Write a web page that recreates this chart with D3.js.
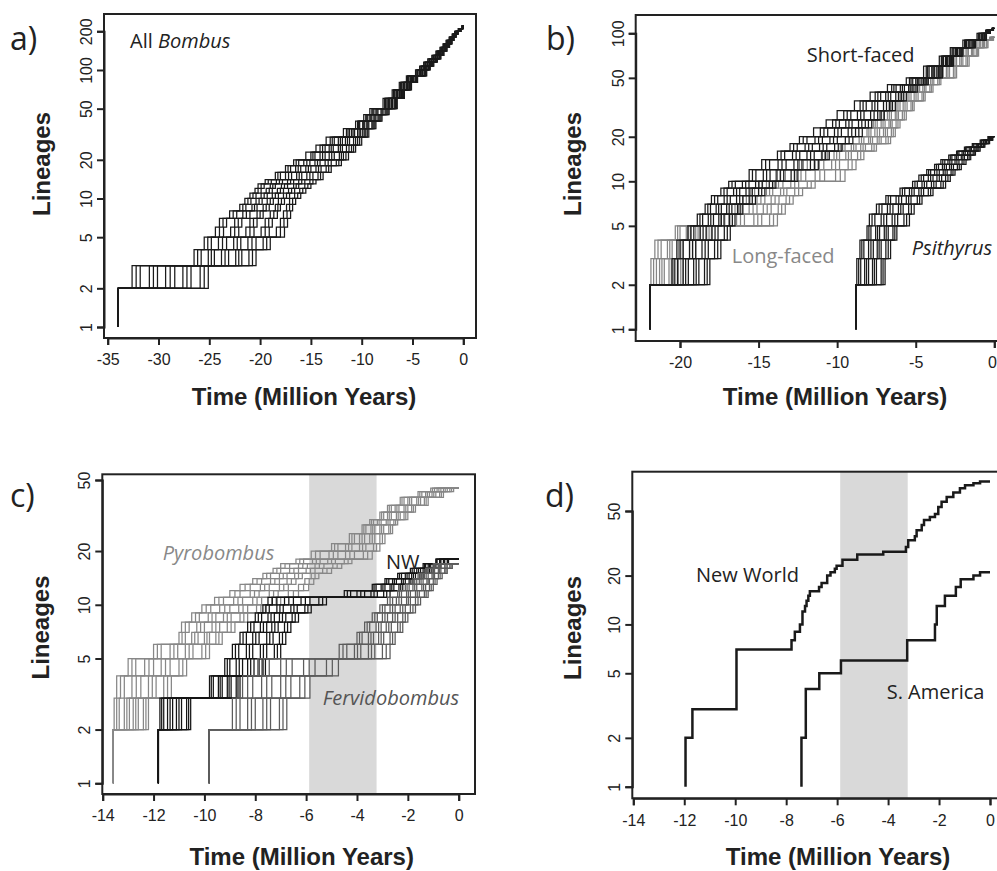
<!DOCTYPE html>
<html>
<head>
<meta charset="utf-8">
<script src="https://cdn.jsdelivr.net/npm/d3@7"></script>
<style>
  html, body { margin: 0; padding: 0; background: #fff; }
  svg { display: block; }
  .tick text { font-family: "Liberation Sans", Arial, sans-serif; font-size: 16px; fill: #222; }
  .axis-title { font-family: "Liberation Sans", Arial, sans-serif; font-size: 24px; font-weight: bold; fill: #222; }
  .note { font-family: "Open Sans", "Noto Sans", sans-serif; font-size: 20px; }
  .panel-label { font-family: "Open Sans", "Noto Sans", sans-serif; font-size: 32px; fill: #222; }
</style>
</head>
<body>
<svg id="chart" width="997" height="871"></svg>
<script>
// ---------------- DATA ----------------
const presentTime = 0;

// Panel a: All Bombus — lineage-through-time curves of 15 sampled trees.
// Rows = lineage counts, columns = trees; value = time (Ma) when the count is reached.
const bombusRootAge = -33.95;
const bombusLevels = [3,4,5,6,7,8,9,10,11,12,13,14,16,18,20,23,26,30,35,40,45,50,60,70,80,90,100,107,115,122,130,140,150,160,170,180,190,200,210,220];
const bombusTimes = [
  [-32.6,-31.8,-30.9,-30.1,-29.3,-28.4,-27.6,-26.8,-25.9,-25.1, -32.2,-30.5,-28.85,-27.2,-25.5],
  [-25.8,-26.5,-24.5,-25.1,-23.1,-23.8,-21.8,-22.4,-20.4,-21.1, -26.15,-24.8,-23.45,-22.1,-20.75],
  [-24.8,-25.5,-23.3,-24.1,-21.9,-22.6,-20.4,-21.2,-19.0,-19.7, -25.15,-23.7,-22.25,-20.8,-19.35],
  [-22.9,-24.4,-21.4,-23.6,-19.9,-22.1,-18.4,-20.6,-17.6,-19.1, -24.0,-22.5,-21.0,-19.5,-18.0],
  [-22.5,-24.0,-21.0,-23.3,-19.5,-21.8,-18.0,-20.3,-17.3,-18.8, -23.65,-22.15,-20.65,-19.15,-17.65],
  [-21.7,-23.0,-20.3,-22.3,-19.0,-21.0,-17.7,-19.7,-17.0,-18.3, -22.65,-21.35,-20.0,-18.65,-17.35],
  [-20.8,-22.0,-19.7,-21.4,-18.5,-20.3,-17.4,-19.1,-16.8,-18.0, -21.7,-20.55,-19.4,-18.25,-17.1],
  [-20.4,-21.5,-19.3,-20.9,-18.2,-19.8,-17.1,-18.7,-16.5,-17.6, -21.2,-20.1,-19.0,-17.9,-16.8],
  [-19.9,-21.0,-18.8,-20.4,-17.7,-19.3,-16.6,-18.2,-16.0,-17.1, -20.7,-19.6,-18.5,-17.4,-16.3],
  [-19.4,-20.5,-18.3,-19.9,-17.2,-18.8,-16.1,-17.7,-15.5,-16.6, -20.2,-19.1,-18.0,-16.9,-15.8],
  [-19.0,-20.2,-17.9,-19.6,-16.7,-18.5,-15.6,-17.3,-15.0,-16.2, -19.9,-18.75,-17.6,-16.45,-15.3],
  [-18.4,-19.5,-17.3,-18.9,-16.2,-17.8,-15.1,-16.7,-14.5,-15.6, -19.2,-18.1,-17.0,-15.9,-14.8],
  [-17.5,-18.5,-16.4,-18.0,-15.4,-16.9,-14.3,-15.9,-13.8,-14.8, -18.25,-17.2,-16.15,-15.1,-14.05],
  [-16.0,-17.0,-15.0,-17.5,-14.0,-16.5,-13.0,-15.5,-13.5,-14.5, -17.25,-16.25,-15.25,-14.25,-13.25],
  [-15.1,-16.2,-14.1,-16.7,-13.0,-15.7,-12.0,-14.6,-12.5,-13.6, -16.45,-15.4,-14.35,-13.3,-12.25],
  [-13.6,-14.6,-12.7,-15.5,-11.8,-15.0,-11.3,-14.1,-12.2,-13.2, -14.8,-13.85,-12.95,-12.0,-11.55],
  [-12.8,-13.6,-11.9,-14.5,-11.0,-14.1,-10.6,-13.2,-11.5,-12.3, -13.85,-13.0,-12.1,-11.25,-10.8],
  [-11.6,-12.3,-10.8,-13.1,-10.0,-13.5,-10.4,-12.7,-11.2,-11.9, -12.9,-12.1,-11.4,-10.6,-10.2],
  [-10.4,-11.0,-9.9,-11.5,-9.3,-11.8,-9.6,-11.2,-10.1,-10.7, -11.35,-10.85,-10.25,-9.75,-9.45],
  [-9.3,-9.7,-8.8,-10.2,-8.6,-10.6,-9.0,-10.4,-9.5,-9.9, -10.3,-9.8,-9.4,-8.9,-8.7],
  [-8.6,-9.0,-8.2,-9.4,-8.0,-9.8,-8.4,-9.6,-8.8,-9.2, -9.5,-9.1,-8.7,-8.3,-8.1],
  [-7.7,-8.1,-7.3,-8.6,-7.5,-9.0,-7.9,-9.2,-8.4,-8.8, -8.9,-8.5,-8.0,-7.6,-7.4],
  [-6.81,-7.12,-6.5,-7.43,-6.66,-7.74,-6.97,-7.9,-7.28,-7.59, -7.67,-7.36,-7.05,-6.74,-6.58],
  [-6.07,-6.33,-5.8,-6.6,-5.93,-6.87,-6.2,-7.0,-6.47,-6.73, -6.8,-6.54,-6.27,-6.0,-5.87],
  [-5.37,-5.63,-5.1,-5.9,-5.23,-6.17,-5.5,-6.3,-5.77,-6.03, -6.1,-5.84,-5.57,-5.3,-5.17],
  [-4.74,-4.99,-4.5,-5.23,-4.62,-5.48,-4.87,-5.6,-5.11,-5.36, -5.42,-5.17,-4.93,-4.68,-4.56],
  [-3.84,-4.09,-3.6,-4.33,-3.72,-4.58,-3.97,-4.7,-4.21,-4.46, -4.52,-4.27,-4.03,-3.78,-3.66],
  [-3.48,-3.72,-3.25,-3.95,-3.37,-4.18,-3.6,-4.3,-3.83,-4.07, -4.13,-3.89,-3.66,-3.43,-3.31],
  [-3.12,-3.34,-2.9,-3.57,-3.01,-3.79,-3.23,-3.9,-3.46,-3.68, -3.74,-3.52,-3.29,-3.07,-2.96],
  [-2.76,-2.97,-2.55,-3.18,-2.66,-3.39,-2.87,-3.5,-3.08,-3.29, -3.34,-3.13,-2.92,-2.71,-2.61],
  [-2.4,-2.6,-2.2,-2.8,-2.3,-3.0,-2.5,-3.1,-2.7,-2.9, -2.95,-2.75,-2.55,-2.35,-2.25],
  [-2.08,-2.26,-1.9,-2.43,-1.99,-2.61,-2.17,-2.7,-2.34,-2.52, -2.57,-2.39,-2.22,-2.04,-1.95],
  [-1.76,-1.91,-1.6,-2.07,-1.68,-2.22,-1.83,-2.3,-1.99,-2.14, -2.18,-2.03,-1.87,-1.72,-1.64],
  [-1.49,-1.64,-1.35,-1.78,-1.42,-1.93,-1.57,-2.0,-1.71,-1.86, -1.9,-1.75,-1.61,-1.46,-1.39],
  [-1.23,-1.37,-1.1,-1.5,-1.17,-1.63,-1.3,-1.7,-1.43,-1.57, -1.6,-1.47,-1.34,-1.2,-1.14],
  [-1.01,-1.12,-0.9,-1.23,-0.96,-1.34,-1.07,-1.4,-1.18,-1.29, -1.32,-1.21,-1.1,-0.99,-0.93],
  [-0.79,-0.88,-0.7,-0.97,-0.74,-1.06,-0.83,-1.1,-0.92,-1.01, -1.04,-0.95,-0.86,-0.77,-0.72],
  [-0.58,-0.66,-0.5,-0.73,-0.54,-0.81,-0.62,-0.85,-0.69,-0.77, -0.79,-0.71,-0.64,-0.56,-0.52],
  [-0.28,-0.34,-0.22,-0.41,-0.25,-0.47,-0.31,-0.5,-0.38,-0.44, -0.46,-0.4,-0.33,-0.27,-0.24],
  [-0.05,-0.07,-0.03,-0.09,-0.04,-0.11,-0.06,-0.12,-0.08,-0.1, -0.11,-0.09,-0.07,-0.05,-0.04]
];

// Panel b: short-faced, long-faced and Psithyrus subgenera (12 trees each)
const faceRootAge = -21.9;
const shortFacedLevels = [3,4,5,6,7,8,9,10,12,14,16,18,20,23,26,30,35,40,45,50,60,70,80,90,100,105,108];
const shortFacedTimes = [
  [-20.5,-20.16,-19.8,-19.47,-19.13,-18.8,-18.44,-18.1, -20.33,-19.64,-18.97,-18.27],
  [-20.2,-19.8,-19.39,-19.0,-18.6,-18.2,-17.8,-17.4, -20.0,-19.2,-18.4,-17.6],
  [-19.12,-19.5,-18.34,-18.72,-17.58,-17.96,-16.8,-17.18, -19.31,-18.53,-17.77,-16.99],
  [-18.56,-18.9,-17.87,-18.2,-17.2,-17.53,-16.5,-16.84, -18.73,-18.04,-17.37,-16.67],
  [-18.06,-18.4,-17.37,-17.7,-16.7,-17.03,-16.0,-16.34, -18.23,-17.54,-16.87,-16.17],
  [-17.6,-18.0,-16.8,-17.19,-16.0,-16.4,-15.2,-15.6, -17.8,-17.0,-16.2,-15.4],
  [-17.0,-17.4,-16.2,-16.59,-15.4,-15.8,-14.6,-15.0, -17.2,-16.4,-15.6,-14.8],
  [-16.03,-16.9,-15.19,-16.48,-14.32,-15.61,-13.9,-14.77, -16.69,-15.82,-14.98,-14.11],
  [-14.27,-15.17,-13.4,-15.6,-12.5,-14.7,-12.93,-13.83, -15.39,-14.49,-13.62,-12.72],
  [-13.25,-14.3,-12.24,-14.8,-11.2,-13.76,-11.7,-12.75, -14.55,-13.51,-12.5,-11.45],
  [-11.92,-12.84,-10.96,-13.8,-10.5,-13.34,-11.46,-12.38, -13.57,-12.61,-11.69,-10.73],
  [-11.12,-12.04,-10.16,-13.0,-9.7,-12.54,-10.66,-11.58, -12.77,-11.81,-10.89,-9.93],
  [-10.46,-11.41,-9.48,-12.4,-9.0,-11.92,-9.99,-10.94, -12.16,-11.18,-10.23,-9.24],
  [-9.3,-10.17,-8.4,-11.07,-8.83,-11.5,-9.73,-10.6, -10.84,-9.95,-9.07,-8.62],
  [-8.64,-9.45,-7.8,-10.29,-8.21,-10.7,-9.05,-9.86, -10.08,-9.25,-8.43,-8.01],
  [-7.87,-8.71,-7.0,-9.58,-7.42,-10.0,-8.29,-9.13, -9.36,-8.5,-7.65,-7.21],
  [-6.66,-7.42,-6.3,-8.15,-7.05,-8.9,-7.78,-8.54, -8.35,-7.6,-6.86,-6.48],
  [-5.92,-6.59,-5.6,-7.23,-6.27,-7.9,-6.91,-7.58, -7.41,-6.75,-6.1,-5.76],
  [-5.17,-5.72,-4.9,-6.25,-5.45,-6.8,-5.98,-6.53, -6.39,-5.85,-5.31,-5.04],
  [-4.2,-4.61,-4.4,-5.0,-4.8,-5.4,-5.19,-5.6, -5.3,-4.9,-4.51,-4.3],
  [-3.3,-3.65,-3.47,-3.98,-3.82,-4.33,-4.15,-4.5, -4.24,-3.9,-3.56,-3.39],
  [-2.6,-2.86,-2.73,-3.11,-2.99,-3.37,-3.24,-3.5, -3.31,-3.05,-2.8,-2.67],
  [-2.0,-2.23,-2.11,-2.46,-2.34,-2.69,-2.57,-2.8, -2.63,-2.4,-2.17,-2.06],
  [-1.2,-1.43,-1.31,-1.66,-1.54,-1.89,-1.77,-2.0, -1.83,-1.6,-1.37,-1.26],
  [-0.5,-0.67,-0.58,-0.84,-0.76,-1.02,-0.93,-1.1, -0.98,-0.8,-0.63,-0.54],
  [-0.25,-0.34,-0.3,-0.42,-0.38,-0.5,-0.46,-0.55, -0.48,-0.4,-0.32,-0.28],
  [-0.05,-0.08,-0.06,-0.11,-0.09,-0.14,-0.12,-0.15, -0.13,-0.1,-0.07,-0.06]
];
const longFacedLevels = [3,4,5,6,7,8,9,10,12,14,16,18,20,23,26,30,35,40,45,50,60,70,80,90,94];
const longFacedTimes = [
  [-21.85,-21.5,-21.3,-21.0,-20.7,-20.4,-20.1,-19.8, -21.68,-21.15,-20.55,-19.95],
  [-21.6,-21.2,-20.8,-20.5,-20.1,-19.8,-19.4,-19.0, -21.4,-20.65,-19.95,-19.2],
  [-20.3,-20.0,-19.6,-19.3,-19.0,-18.7,-18.3,-18.0, -20.15,-19.45,-18.85,-18.15],
  [-14.8,-16.4,-13.8,-17.4,-15.9,-14.3,-16.9,-15.3, -17.15,-16.15,-15.05,-14.05],
  [-14.2,-15.6,-13.3,-16.5,-15.1,-13.75,-16.05,-14.7, -16.28,-15.35,-14.45,-13.53],
  [-13.7,-15.1,-12.8,-16.0,-14.6,-13.25,-15.55,-14.2, -15.78,-14.85,-13.95,-13.03],
  [-13.2,-14.5,-12.2,-15.5,-14.1,-12.7,-15.0,-13.6, -15.25,-14.3,-13.4,-12.45],
  [-12.45,-14.0,-11.4,-15.0,-13.45,-11.9,-14.5,-12.95, -14.75,-13.73,-12.7,-11.65],
  [-10.8,-12.6,-9.5,-13.9,-12.0,-10.1,-13.3,-11.4, -13.6,-12.3,-11.1,-9.8],
  [-9.85,-11.4,-8.8,-12.4,-10.85,-9.3,-11.9,-10.35, -12.15,-11.13,-10.1,-9.05],
  [-9.1,-10.2,-8.3,-11.0,-9.85,-8.7,-10.6,-9.45, -10.8,-10.03,-9.28,-8.5],
  [-8.2,-9.1,-7.5,-9.8,-8.8,-7.8,-9.5,-8.5, -9.65,-8.95,-8.35,-7.65],
  [-7.45,-7.75,-6.9,-8.3,-8.0,-6.6,-8.6,-7.2, -8.45,-7.88,-7.33,-6.75],
  [-7.05,-7.3,-6.55,-7.85,-7.6,-6.3,-8.1,-6.8, -7.98,-7.45,-6.93,-6.43],
  [-6.7,-6.95,-6.25,-7.45,-7.2,-6.0,-7.7,-6.5, -7.58,-7.08,-6.6,-6.13],
  [-6.3,-6.55,-5.85,-7.05,-6.8,-5.6,-7.3,-6.1, -7.18,-6.68,-6.2,-5.73],
  [-5.8,-6.0,-5.3,-6.5,-6.25,-5.1,-6.7,-5.55, -6.6,-6.13,-5.68,-5.2],
  [-5.1,-5.3,-4.6,-5.8,-5.55,-4.4,-6.0,-4.85, -5.9,-5.43,-4.98,-4.5],
  [-4.55,-4.75,-4.1,-5.2,-4.95,-3.9,-5.4,-4.35, -5.3,-4.85,-4.45,-4.0],
  [-4.05,-4.25,-3.6,-4.7,-4.45,-3.4,-4.9,-3.85, -4.8,-4.35,-3.95,-3.5],
  [-3.05,-3.25,-2.6,-3.7,-3.45,-2.4,-3.9,-2.85, -3.8,-3.35,-2.95,-2.5],
  [-2.2,-2.4,-1.8,-2.8,-2.6,-1.6,-3.0,-2.0, -2.9,-2.5,-2.1,-1.7],
  [-1.45,-1.65,-1.15,-1.95,-1.8,-1.0,-2.1,-1.3, -2.03,-1.73,-1.38,-1.08],
  [-0.74,-0.86,-0.51,-1.1,-0.97,-0.4,-1.2,-0.63, -1.15,-0.92,-0.69,-0.46],
  [-0.15,-0.18,-0.08,-0.26,-0.22,-0.05,-0.3,-0.11, -0.28,-0.2,-0.13,-0.07]
];
const psithyrusRootAge = -8.8;
const psithyrusLevels = [3,4,5,6,7,8,9,10,11,12,13,14,15,16,17,18,19,20];
const psithyrusTimes = [
  [-8.75,-8.5,-8.25,-8.0,-7.75,-7.5,-7.2,-6.95, -8.63,-8.13,-7.63,-7.08],
  [-8.55,-8.3,-8.0,-7.7,-7.45,-7.2,-6.9,-6.6, -8.43,-7.85,-7.33,-6.75],
  [-7.85,-8.1,-7.3,-7.55,-6.75,-7.0,-6.2,-6.45, -7.98,-7.43,-6.88,-6.33],
  [-7.6,-7.95,-6.85,-7.2,-6.15,-6.5,-5.4,-5.75, -7.78,-7.03,-6.33,-5.58],
  [-7.15,-7.5,-6.45,-6.8,-5.8,-6.1,-5.1,-5.45, -7.33,-6.63,-5.95,-5.28],
  [-6.6,-6.9,-5.9,-6.25,-5.3,-5.6,-4.6,-4.9, -6.75,-6.08,-5.45,-4.75],
  [-5.4,-6.0,-4.8,-5.7,-4.2,-5.1,-3.9,-4.5, -5.85,-5.25,-4.65,-4.05],
  [-4.6,-5.2,-4.0,-4.9,-3.4,-4.3,-3.1,-3.7, -5.05,-4.45,-3.85,-3.25],
  [-4.2,-4.8,-3.65,-4.5,-3.1,-3.9,-2.8,-3.35, -4.65,-4.05,-3.5,-2.95],
  [-3.8,-4.3,-3.25,-4.05,-2.75,-3.5,-2.5,-3.0, -4.18,-3.65,-3.13,-2.63],
  [-3.05,-3.55,-2.6,-3.8,-2.1,-3.3,-2.35,-2.85, -3.68,-3.18,-2.73,-2.23],
  [-2.7,-3.15,-2.25,-3.4,-1.8,-2.95,-2.05,-2.5, -3.28,-2.83,-2.38,-1.93],
  [-2.3,-2.7,-1.9,-2.9,-1.5,-2.5,-1.7,-2.1, -2.8,-2.4,-2.0,-1.6],
  [-1.85,-2.25,-1.5,-2.4,-1.2,-2.05,-1.35,-1.7, -2.33,-1.95,-1.6,-1.28],
  [-1.45,-1.75,-1.15,-1.9,-0.9,-1.6,-1.05,-1.3, -1.83,-1.53,-1.23,-0.98],
  [-1.0,-1.3,-0.8,-1.4,-0.6,-1.15,-0.7,-0.9, -1.35,-1.08,-0.85,-0.65],
  [-0.65,-0.8,-0.5,-0.9,-0.3,-0.7,-0.4,-0.55, -0.85,-0.68,-0.53,-0.35],
  [-0.25,-0.35,-0.15,-0.4,-0.1,-0.3,-0.12,-0.2, -0.38,-0.28,-0.18,-0.11]
];

// Panel c: Pyrobombus, New World (NW) clade and Fervidobombus (12 trees each)
const pyroRootAge = -13.58;
const pyroLevels = [3,4,5,6,7,8,9,10,11,12,13,14,15,16,17,18,20,22,25,28,30,33,36,40,43,45];
const pyroTimes = [
  [-13.55,-13.35,-13.15,-12.95,-12.8,-12.6,-12.4,-12.2, -13.45,-13.05,-12.7,-12.3],
  [-13.45,-13.15,-12.85,-12.5,-12.2,-11.9,-11.6,-11.3, -13.3,-12.68,-12.05,-11.45],
  [-12.7,-13.0,-12.0,-12.35,-11.35,-11.7,-10.7,-11.0, -12.85,-12.18,-11.53,-10.85],
  [-11.35,-12.0,-10.75,-11.7,-10.1,-11.05,-9.8,-10.45, -11.85,-11.2,-10.6,-9.95],
  [-10.25,-10.75,-9.8,-11.0,-9.3,-10.5,-9.55,-10.0, -10.88,-10.38,-9.9,-9.43],
  [-10.0,-10.6,-9.4,-10.9,-8.8,-10.3,-9.1,-9.7, -10.75,-10.15,-9.55,-8.95],
  [-9.55,-10.2,-8.95,-10.5,-8.3,-9.85,-8.6,-9.25, -10.35,-9.7,-9.1,-8.45],
  [-9.0,-9.75,-8.3,-10.1,-7.6,-9.4,-7.95,-8.65, -9.93,-9.2,-8.48,-7.78],
  [-8.5,-9.25,-7.75,-9.6,-7.0,-8.85,-7.35,-8.1, -9.43,-8.68,-7.93,-7.18],
  [-7.85,-8.6,-7.1,-9.0,-6.3,-8.2,-6.7,-7.45, -8.8,-8.03,-7.28,-6.5],
  [-7.45,-8.2,-6.7,-8.6,-5.9,-7.8,-6.3,-7.05, -8.4,-7.63,-6.88,-6.1],
  [-7.05,-7.75,-6.4,-8.1,-5.7,-7.4,-6.05,-6.75, -7.93,-7.23,-6.58,-5.88],
  [-6.75,-7.4,-6.15,-7.7,-5.5,-7.05,-5.8,-6.45, -7.55,-6.9,-6.3,-5.65],
  [-6.3,-7.0,-5.65,-7.3,-5.0,-6.65,-5.35,-6.0, -7.15,-6.48,-5.83,-5.18],
  [-5.95,-6.65,-5.3,-7.0,-4.6,-6.3,-4.95,-5.65, -6.83,-6.13,-5.48,-4.78],
  [-5.15,-5.75,-4.5,-6.4,-4.2,-6.1,-4.85,-5.45, -6.25,-5.6,-5.0,-4.35],
  [-4.1,-4.75,-3.4,-5.45,-3.75,-5.8,-4.45,-5.1, -5.63,-4.93,-4.28,-3.58],
  [-3.65,-4.2,-3.1,-4.75,-3.35,-5.0,-3.9,-4.45, -4.88,-4.33,-3.78,-3.23],
  [-3.3,-3.7,-2.9,-4.1,-3.1,-4.3,-3.5,-3.9, -4.2,-3.8,-3.4,-3.0],
  [-2.95,-3.3,-2.6,-3.65,-2.75,-3.8,-3.1,-3.45, -3.73,-3.38,-3.03,-2.68],
  [-2.7,-3.05,-2.4,-3.35,-2.55,-3.5,-2.85,-3.2, -3.43,-3.13,-2.78,-2.48],
  [-2.3,-2.65,-2.0,-2.95,-2.15,-3.1,-2.45,-2.8, -3.03,-2.73,-2.38,-2.08],
  [-2.0,-2.35,-1.7,-2.65,-1.85,-2.8,-2.15,-2.5, -2.73,-2.43,-2.08,-1.78],
  [-1.5,-1.85,-1.2,-2.15,-1.35,-2.3,-1.65,-2.0, -2.23,-1.93,-1.58,-1.28],
  [-0.9,-1.15,-0.6,-1.45,-0.75,-1.6,-1.05,-1.3, -1.53,-1.23,-0.98,-0.68],
  [-0.45,-0.7,-0.2,-0.95,-0.35,-1.1,-0.6,-0.85, -1.03,-0.78,-0.53,-0.28]
];
const nwRootAge = -11.81;
const nwLevels = [3,4,5,6,7,8,9,10,11,12,13,14,15,16,17,18];
const nwTimes = [
  [-11.75,-11.6,-11.45,-11.25,-11.1,-10.9,-10.7,-10.54, -11.68,-11.35,-11.0,-10.62],
  [-9.3,-8.75,-9.8,-8.95,-9.65,-8.6,-9.45,-9.1, -9.73,-9.38,-9.03,-8.68],
  [-8.5,-7.85,-9.2,-8.05,-9.0,-7.6,-8.75,-8.3, -9.1,-8.63,-8.18,-7.73],
  [-8.1,-7.25,-8.9,-7.55,-8.65,-7.0,-8.35,-7.8, -8.78,-8.23,-7.68,-7.13],
  [-7.85,-7.05,-8.6,-7.3,-8.35,-6.8,-8.1,-7.55, -8.48,-7.98,-7.43,-6.93],
  [-7.55,-6.85,-8.3,-7.1,-8.05,-6.6,-7.8,-7.35, -8.18,-7.68,-7.23,-6.73],
  [-7.25,-6.55,-8.0,-6.8,-7.75,-6.3,-7.5,-7.05, -7.88,-7.38,-6.93,-6.43],
  [-6.9,-6.05,-7.7,-6.35,-7.45,-5.8,-7.15,-6.6, -7.58,-7.03,-6.48,-5.93],
  [-6.5,-5.5,-7.5,-5.85,-7.15,-5.2,-6.85,-6.2, -7.33,-6.68,-6.03,-5.35],
  [-2.95,-4.25,-3.45,-4.5,-2.7,-3.7,-3.2,-4.0, -4.38,-3.85,-3.33,-2.83],
  [-2.35,-3.25,-2.7,-3.4,-2.2,-2.9,-2.55,-3.05, -3.33,-2.98,-2.63,-2.28],
  [-1.95,-2.75,-2.25,-2.9,-1.8,-2.45,-2.1,-2.6, -2.83,-2.53,-2.18,-1.88],
  [-1.55,-2.25,-1.85,-2.4,-1.4,-1.95,-1.7,-2.1, -2.33,-2.03,-1.78,-1.48],
  [-1.15,-1.75,-1.4,-1.9,-1.0,-1.5,-1.25,-1.65, -1.83,-1.58,-1.33,-1.08],
  [-0.8,-1.3,-1.0,-1.4,-0.7,-1.1,-0.9,-1.2, -1.35,-1.15,-0.95,-0.75],
  [-0.45,-0.85,-0.6,-0.9,-0.4,-0.7,-0.55,-0.75, -0.88,-0.73,-0.58,-0.43]
];
const fervRootAge = -9.81;
const fervLevels = [3,4,5,6,7,8,9,10,11,12,13,14,15,16,17];
const fervTimes = [
  [-8.9,-8.6,-8.3,-8.0,-7.7,-7.4,-7.05,-6.76, -8.75,-8.15,-7.55,-6.91],
  [-8.1,-8.5,-7.35,-7.75,-6.6,-7.0,-5.85,-6.25, -8.3,-7.55,-6.8,-6.05],
  [-7.45,-7.9,-6.55,-7.0,-5.65,-6.1,-4.73,-5.2, -7.68,-6.78,-5.88,-4.97],
  [-4.1,-3.3,-4.7,-2.7,-3.85,-3.0,-4.4,-3.55, -4.55,-3.98,-3.43,-2.85],
  [-3.55,-2.95,-4.0,-2.5,-3.35,-2.7,-3.8,-3.15, -3.9,-3.45,-3.05,-2.6],
  [-3.25,-2.65,-3.7,-2.2,-3.05,-2.4,-3.5,-2.85, -3.6,-3.15,-2.75,-2.3],
  [-3.0,-2.4,-3.4,-2.0,-2.8,-2.2,-3.2,-2.6, -3.3,-2.9,-2.5,-2.1],
  [-2.7,-2.1,-3.1,-1.7,-2.5,-1.9,-2.9,-2.3, -3.0,-2.6,-2.2,-1.8],
  [-2.45,-1.9,-2.8,-1.5,-2.25,-1.7,-2.6,-2.05, -2.7,-2.35,-1.98,-1.6],
  [-2.05,-1.55,-2.4,-1.2,-1.9,-1.35,-2.25,-1.7, -2.33,-1.98,-1.63,-1.28],
  [-1.8,-1.3,-2.1,-1.0,-1.65,-1.15,-1.95,-1.45, -2.03,-1.73,-1.38,-1.08],
  [-1.55,-1.15,-1.8,-0.85,-1.4,-1.0,-1.65,-1.25, -1.73,-1.48,-1.2,-0.93],
  [-1.35,-0.95,-1.6,-0.65,-1.2,-0.8,-1.45,-1.05, -1.53,-1.28,-1.0,-0.73],
  [-1.05,-0.7,-1.3,-0.45,-0.95,-0.55,-1.2,-0.8, -1.25,-1.0,-0.75,-0.5],
  [-0.8,-0.45,-1.0,-0.25,-0.7,-0.35,-0.9,-0.55, -0.95,-0.75,-0.5,-0.3]
];

// Panel d: single LTT curves [time (Ma), lineages]
const newWorldSteps = [[-11.95,1],[-11.95,2],[-11.68,3],[-9.95,7],[-7.79,8],[-7.66,9],[-7.46,10],[-7.36,12],[-7.26,13],[-7.2,14],[-7.13,15],[-7.07,16],[-6.71,17],[-6.61,18],[-6.39,20],[-6.26,21],[-6.09,22],[-6.02,23],[-5.79,25],[-5.21,27],[-4.19,28],[-3.3,30],[-3.21,33],[-2.95,35],[-2.88,38],[-2.68,41],[-2.59,44],[-2.36,46],[-2.16,48],[-2.03,53],[-1.9,57],[-1.7,61],[-1.44,65],[-1.18,69],[-0.98,72],[-0.65,74],[-0.39,76]];
const southAmericaSteps = [[-7.4,1],[-7.4,2],[-7.23,4],[-6.7,5],[-5.85,6],[-3.25,8],[-2.16,10],[-2.09,13],[-1.77,15],[-1.34,17],[-1.15,19],[-0.65,20],[-0.39,21]];

// Shaded interval (Ma) in panels c and d
const shadedInterval = [-5.88, -3.23];

// Axis ticks
const ticksA_x = [-35,-30,-25,-20,-15,-10,-5,0];
const ticksA_y = [1,2,5,10,20,50,100,200];
const ticksB_x = [-20,-15,-10,-5,0];
const ticksB_y = [1,2,5,10,20,50,100];
const ticksCD_x = [-14,-12,-10,-8,-6,-4,-2,0];
const ticksC_y = [1,2,5,10,20,50];
const ticksD_y = [1,2,5,10,20,50];

// ---------------- DRAWING ----------------
const svg = d3.select("#chart");
const INK = "#222";
const LW = 1.25;

function replicateSeries(root, levels, times) {
  const nRep = times[0].length;
  return d3.range(nRep).map(j => {
    const pts = [[root, 1], [root, 2]];
    levels.forEach((L, i) => pts.push([times[i][j], L]));
    pts.push([presentTime, levels[levels.length - 1]]);
    return pts;
  });
}

function makePanel(cfg) {
  const g = svg.append("g");
  const x = d3.scaleLinear().domain(cfg.xDomain).range(cfg.xRange);
  const y = d3.scaleLog().domain(cfg.yDomain).range(cfg.yRange);
  const line = d3.line().curve(d3.curveStepAfter).x(d => x(d[0])).y(d => y(d[1]));
  return { g, x, y, line, cfg };
}

function drawFrame(p) {
  const { g, x, y, cfg } = p;
  const b = cfg.box;
  g.append("rect").attr("x", b[0]).attr("y", b[1]).attr("width", b[2] - b[0]).attr("height", b[3] - b[1])
    .attr("fill", "none").attr("stroke", INK).attr("stroke-width", 2);
  const xa = g.append("g").attr("transform", `translate(0,${b[3]})`)
    .call(d3.axisBottom(x).tickValues(cfg.xTicks).tickSizeOuter(0).tickSize(7).tickPadding(9).tickFormat(d3.format("d")));
  xa.select(".domain").attr("stroke", INK).attr("stroke-width", 2);
  xa.selectAll(".tick line").attr("stroke", INK).attr("stroke-width", 2);
  xa.selectAll(".tick text").attr("dy", "0.71em").text(d => d < 0 ? "-" + Math.abs(d) : d);
  if (cfg.lastXLabelEnd) {
    xa.selectAll(".tick text").filter(d => d === 0).attr("text-anchor", "end").attr("x", cfg.lastXLabelEnd);
  }
  const ya = g.append("g").attr("transform", `translate(${b[0]},0)`)
    .call(d3.axisLeft(y).tickValues(cfg.yTicks).tickSizeOuter(0).tickSize(7).tickFormat(d3.format("d")));
  ya.select(".domain").attr("stroke", INK).attr("stroke-width", 2);
  ya.selectAll(".tick line").attr("stroke", INK).attr("stroke-width", 2);
  ya.selectAll(".tick text").attr("transform", "rotate(-90)").attr("x", 0).attr("y", -12).attr("dy", 0)
    .style("text-anchor", "middle");
  g.append("text").attr("class", "axis-title").attr("x", cfg.xTitle[0]).attr("y", cfg.xTitle[1])
    .attr("text-anchor", "middle").text("Time (Million Years)");
  g.append("text").attr("class", "axis-title").attr("transform", `translate(${cfg.yTitle[0]},${cfg.yTitle[1]}) rotate(-90)`)
    .attr("text-anchor", "middle").text("Lineages");
  g.append("text").attr("class", "panel-label").attr("x", cfg.label[0]).attr("y", cfg.label[1]).text(cfg.labelText);
}

function drawReplicates(p, root, levels, times, color, width) {
  p.g.append("g").selectAll("path").data(replicateSeries(root, levels, times)).join("path")
    .attr("d", p.line).attr("fill", "none").attr("stroke", color).attr("stroke-width", width);
}

function drawShade(p) {
  const b = p.cfg.box;
  p.g.append("rect").attr("x", p.x(shadedInterval[0])).attr("y", b[1])
    .attr("width", p.x(shadedInterval[1]) - p.x(shadedInterval[0])).attr("height", b[3] - b[1])
    .attr("fill", "#d9d9d9");
}

function note(p, xx, yy, parts, color) {
  const t = p.g.append("text").attr("class", "note").attr("x", xx).attr("y", yy).attr("fill", color);
  parts.forEach(([s, it]) => t.append("tspan").attr("font-style", it ? "italic" : "normal").text(s));
}

// Panel a
const pa = makePanel({ xDomain: [-35, 0], xRange: [107.7, 463.3], yDomain: [1, 200], yRange: [327, 31.3],
  box: [104, 14, 476, 338], xTicks: ticksA_x, yTicks: ticksA_y, xTitle: [304, 405], yTitle: [50, 164],
  label: [10, 50], labelText: "a)" });
drawReplicates(pa, bombusRootAge, bombusLevels, bombusTimes, "#1a1a1a", LW);
note(pa, 130, 48, [["All ", false], ["Bombus", true]], "#222");
drawFrame(pa);

// Panel b
const pb = makePanel({ xDomain: [-20, 0], xRange: [680, 994.3], yDomain: [1, 100], yRange: [329.3, 33.3],
  box: [635.7, 15, 1010, 341], xTicks: ticksB_x, yTicks: ticksB_y, xTitle: [835, 405], yTitle: [581, 164],
  label: [546, 50], labelText: "b)", lastXLabelEnd: 2 });
drawReplicates(pb, faceRootAge, longFacedLevels, longFacedTimes, "#858585", LW);
drawReplicates(pb, faceRootAge, shortFacedLevels, shortFacedTimes, "#1a1a1a", LW);
drawReplicates(pb, psithyrusRootAge, psithyrusLevels, psithyrusTimes, "#1a1a1a", LW);
note(pb, 806.7, 61.7, [["Short-faced", false]], "#222");
note(pb, 731.7, 263.3, [["Long-faced", false]], "#888");
note(pb, 911.7, 255, [["Psithyrus", true]], "#222");
drawFrame(pb);

// Panel c
const pc = makePanel({ xDomain: [-14, 0], xRange: [102.7, 458.7], yDomain: [1, 50], yRange: [783.3, 480],
  box: [102.3, 474.3, 475, 794], xTicks: ticksCD_x, yTicks: ticksC_y, xTitle: [301.7, 865], yTitle: [49, 627.5],
  label: [10, 507], labelText: "c)" });
drawShade(pc);
drawReplicates(pc, pyroRootAge, pyroLevels, pyroTimes, "#878787", LW);
drawReplicates(pc, nwRootAge, nwLevels, nwTimes, "#141414", LW);
drawReplicates(pc, fervRootAge, fervLevels, fervTimes, "#5c5c5c", LW);
note(pc, 162.7, 560, [["Pyrobombus", true]], "#888");
note(pc, 386, 569, [["NW", false]], "#222");
note(pc, 322.7, 705, [["Fervidobombus", true]], "#555");
drawFrame(pc);

// Panel d
const pd = makePanel({ xDomain: [-14, 0], xRange: [633.3, 990], yDomain: [1, 50], yRange: [786.7, 511],
  box: [632.3, 471.7, 1010, 798.3], xTicks: ticksCD_x, yTicks: ticksD_y, xTitle: [838, 865], yTitle: [581, 628],
  label: [545, 507], labelText: "d)" });
drawShade(pd);
[newWorldSteps, southAmericaSteps].forEach(s => {
  const pts = s.concat([[presentTime, s[s.length - 1][1]]]);
  pd.g.append("path").attr("d", pd.line(pts)).attr("fill", "none").attr("stroke", "#1a1a1a").attr("stroke-width", 2.5);
});
note(pd, 696, 581.7, [["New World", false]], "#222");
note(pd, 886.7, 699, [["S. America", false]], "#222");
drawFrame(pd);
</script>
</body>
</html>
